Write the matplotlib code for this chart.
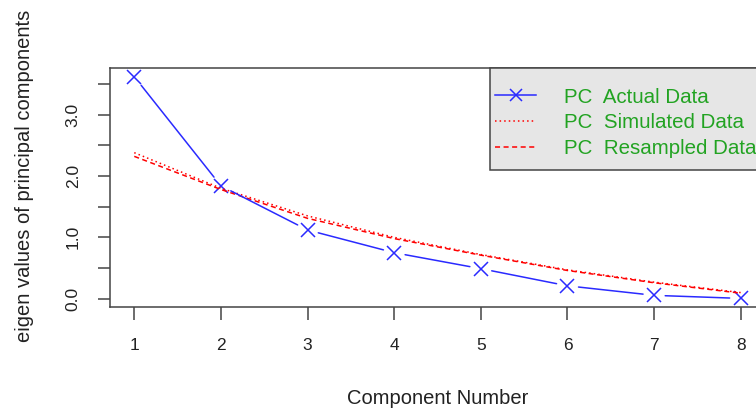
import matplotlib
matplotlib.use('Agg')
import matplotlib.pyplot as plt
from matplotlib.lines import Line2D
from matplotlib.patches import Rectangle

# ---- data ----
components = [1, 2, 3, 4, 5, 6, 7, 8]
actual = [3.62, 1.84, 1.12, 0.75, 0.49, 0.21, 0.055, 0.005]
simulated = [2.38, 1.80, 1.35, 1.00, 0.72, 0.47, 0.27, 0.10]
resampled = [2.32, 1.78, 1.31, 0.98, 0.71, 0.46, 0.26, 0.09]

y_ticks = [0.0, 0.5, 1.0, 1.5, 2.0, 2.5, 3.0, 3.5]
y_labels = ['0.0', '', '1.0', '', '2.0', '', '3.0', '']
legend_labels = ['PC  Actual Data', 'PC  Simulated Data', 'PC  Resampled Data']

plt.rcParams['font.family'] = ['Liberation Sans', 'DejaVu Sans']

W, H = 756, 408
fig = plt.figure(figsize=(W / 100, H / 100), dpi=100)
# axes box runs past the right edge of the picture (cropped R plot)
ax = fig.add_axes([110 / W, 1 - 307 / H, 655 / W, 239 / H])

blue = '#2a2aff'
red = '#ff0000'
axis_col = '#444444'

# actual data: R type="b" -> segments with gaps around the points
for i in range(len(components) - 1):
    ax.annotate('', xy=(components[i + 1], actual[i + 1]),
                xytext=(components[i], actual[i]),
                arrowprops=dict(arrowstyle='-', color=blue, lw=1.1,
                                shrinkA=8, shrinkB=8))
ax.plot(components, actual, linestyle='none', marker='x', color=blue,
        markersize=9.5, markeredgewidth=1.1)

ax.plot(components, simulated, color=red, lw=1.1, linestyle=(0, (1, 2)))
ax.plot(components, resampled, color=red, lw=1.1, linestyle=(0, (3.3, 2.3)))

ax.set_xlim(0.72, 8.28)
ax.set_ylim(-0.135, 3.76)
ax.set_xticks(components)
ax.set_xticklabels([str(c) for c in components])
ax.set_yticks(y_ticks)
ax.set_yticklabels(y_labels, rotation=90, va='center')

ax.tick_params(axis='both', length=9, width=1.1, color=axis_col,
               labelsize=12.5, labelcolor='#222222')
ax.tick_params(axis='x', pad=13.5)
ax.tick_params(axis='y', pad=12)
for sp in ax.spines.values():
    sp.set_color(axis_col)
    sp.set_linewidth(1.1)

# legend box (grey fill) reaching to the right edge of the plot box
ax.add_patch(Rectangle((0.580, 0.573), 0.42, 0.427, transform=ax.transAxes,
                       facecolor='#e6e6e6', edgecolor=axis_col, lw=1.1,
                       zorder=3, clip_on=False))
handles = [
    Line2D([], [], color=blue, lw=1.1, marker='x', markersize=9,
           markeredgewidth=1.1),
    Line2D([], [], color=red, lw=1.1, linestyle=(0, (1, 2))),
    Line2D([], [], color=red, lw=1.1, linestyle=(0, (3.3, 2.3))),
]
leg = ax.legend(handles, legend_labels, loc='upper left',
                bbox_to_anchor=(0.588, 0.918), frameon=False, borderpad=0,
                borderaxespad=0, fontsize=14.8, handlelength=2.0,
                handletextpad=1.35, labelspacing=0.32, labelcolor='#22a322')
leg.set_zorder(4)

fig.text(25 / W, 1 - 176 / H, 'eigen values of principal components',
         rotation=90, ha='center', va='center', fontsize=14.5, color='#222222')
fig.text(437.5 / W, 1 - 399 / H, 'Component Number',
         ha='center', va='center', fontsize=14.5, color='#222222')

fig.savefig('out.png', dpi=100)
